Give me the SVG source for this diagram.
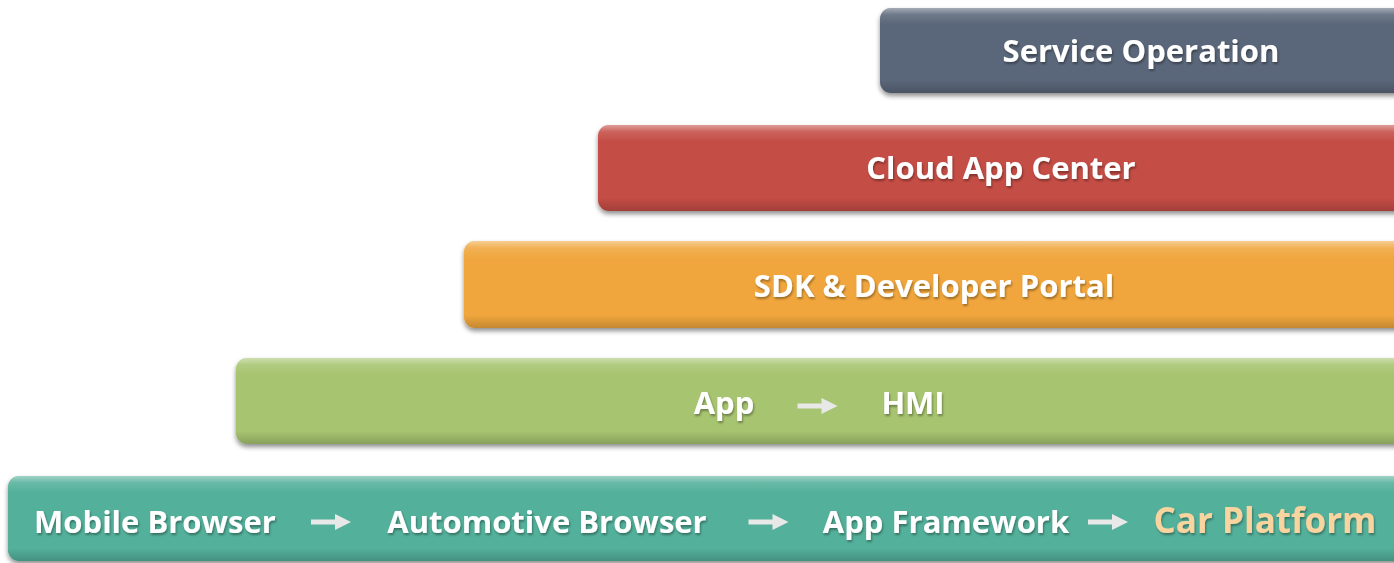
<svg xmlns="http://www.w3.org/2000/svg" width="1394" height="563" viewBox="0 0 1394 563">
<defs>
<linearGradient id="gloss" x1="0" y1="0" x2="0" y2="1">
<stop offset="0" stop-color="#ffffff" stop-opacity="0.45"/>
<stop offset="0.08" stop-color="#ffffff" stop-opacity="0.12"/>
<stop offset="0.2" stop-color="#ffffff" stop-opacity="0"/>
<stop offset="0.85" stop-color="#000000" stop-opacity="0"/>
<stop offset="1" stop-color="#000000" stop-opacity="0.18"/>
</linearGradient>
<filter id="sh" x="-5%" y="-20%" width="110%" height="150%">
<feGaussianBlur in="SourceAlpha" stdDeviation="2.5"/>
<feOffset dx="0" dy="3" result="b"/>
<feComponentTransfer><feFuncA type="linear" slope="0.45"/></feComponentTransfer>
<feMerge><feMergeNode/><feMergeNode in="SourceGraphic"/></feMerge>
</filter>
<filter id="tsh" x="-5%" y="-30%" width="110%" height="160%">
<feGaussianBlur in="SourceAlpha" stdDeviation="1.2"/>
<feOffset dx="1" dy="1.5"/>
<feComponentTransfer><feFuncA type="linear" slope="0.35"/></feComponentTransfer>
<feMerge><feMergeNode/><feMergeNode in="SourceGraphic"/></feMerge>
</filter>
<symbol id="arr" viewBox="0 0 40 16" overflow="visible">
<path d="M0 5.5 H24 V0 L40 8 L24 16 V10.5 H0 Z" fill="#e8e8e8"/>
</symbol>
</defs>
<style>
.lbl{font-family:"Open Sans","Liberation Sans",sans-serif;font-weight:bold;font-size:31px;fill:#ffffff;}
.car{fill:#f9d49e;font-size:35px;}
</style>
<g id="service-operation">
<rect x="880" y="8" width="530" height="85" rx="11" fill="#5a6679" filter="url(#sh)"/>
<rect x="880" y="8" width="530" height="85" rx="11" fill="url(#gloss)"/>
<text class="lbl" x="1141" y="62" text-anchor="middle" filter="url(#tsh)">Service Operation</text>
</g>
<g id="cloud-app-center">
<rect x="598" y="125" width="812" height="86" rx="11" fill="#c44e45" filter="url(#sh)"/>
<rect x="598" y="125" width="812" height="86" rx="11" fill="url(#gloss)"/>
<text class="lbl" x="1001" y="179" text-anchor="middle" filter="url(#tsh)">Cloud App Center</text>
</g>
<g id="sdk-developer-portal">
<rect x="464" y="241" width="946" height="87" rx="11" fill="#f0a63d" filter="url(#sh)"/>
<rect x="464" y="241" width="946" height="87" rx="11" fill="url(#gloss)"/>
<text class="lbl" x="934" y="297" text-anchor="middle" filter="url(#tsh)">SDK &amp; Developer Portal</text>
</g>
<g id="app-hmi">
<rect x="236" y="358" width="1174" height="86" rx="11" fill="#a7c46f" filter="url(#sh)"/>
<rect x="236" y="358" width="1174" height="86" rx="11" fill="url(#gloss)"/>
<text class="lbl" x="724" y="414" text-anchor="middle" filter="url(#tsh)">App</text>
<text class="lbl" x="913" y="414" text-anchor="middle" filter="url(#tsh)">HMI</text>
</g>
<g id="platform-row">
<rect x="8" y="476" width="1402" height="85" rx="11" fill="#52b09a" filter="url(#sh)"/>
<rect x="8" y="476" width="1402" height="85" rx="11" fill="url(#gloss)"/>
<text class="lbl" x="155" y="533" text-anchor="middle" filter="url(#tsh)">Mobile Browser</text>
<text class="lbl" x="547" y="533" text-anchor="middle" filter="url(#tsh)">Automotive Browser</text>
<text class="lbl" x="946" y="533" text-anchor="middle" filter="url(#tsh)">App Framework</text>
<text class="lbl car" x="1265" y="533" text-anchor="middle" filter="url(#tsh)">Car Platform</text>
</g>
<g id="connectors">
<use href="#arr" x="797" y="398" width="41" height="16"/>
<use href="#arr" x="311" y="514" width="40" height="16"/>
<use href="#arr" x="748" y="514" width="41" height="16"/>
<use href="#arr" x="1088" y="514" width="40" height="16"/>
</g>
</svg>
